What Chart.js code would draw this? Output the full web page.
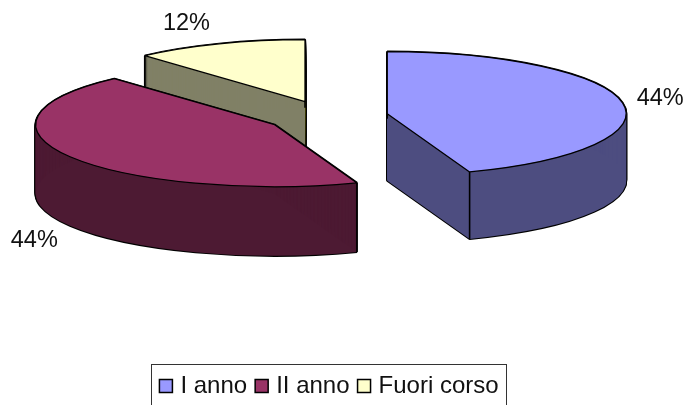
<!DOCTYPE html>
<html>
<head>
<meta charset="utf-8">
<style>
  html, body { margin: 0; padding: 0; background: #fff; overflow: hidden; }
  canvas { display: block; }
</style>
<script src="https://cdn.jsdelivr.net/npm/chart.js@4"></script>
</head>
<body>
<canvas id="pie3d" width="688" height="405"></canvas>
<script>
// Values (labels say 44 / 44 / 12, slice edges give the decimals)
const categories = ["I anno", "II anno", "Fuori corso"];
const shares = [44.4, 43.9, 11.7];

// Colours of the top faces, the side walls and the outline
const topColors = ["#9999FF", "#993366", "#FFFFCC"];
const sideColors = ["#4D4D80", "#4D1A33", "#808066"];
const lineColor = "#000000";

// Fake 3D: the flat pie is squashed about this point, exploded and swept downwards
const pieCenterX = 327;
const pieCenterY = 116.5;
const faceRadiusX = 239;
const faceRadiusY = 62;
const explode = 0.256;
const wallDepth = [67, 69, 68];
const drawOrder = [2, 1, 0];

// Percent labels: how far out along the slice, and how far below the face
const labelReach = [1.16, 1.175, 1.38];
const labelDrop = [-3, 78, 2];
const fontName = '"Liberation Sans", Arial, sans-serif';

function midAngle(arc) {
    return (arc.startAngle + arc.endAngle) / 2;
}

function placeArc(ctx, arc, drop) {
    const sx = faceRadiusX / arc.outerRadius;
    const sy = faceRadiusY / arc.outerRadius;
    const mid = midAngle(arc);
    const cx = pieCenterX + Math.cos(mid) * explode * faceRadiusX;
    const cy = pieCenterY + Math.sin(mid) * explode * faceRadiusY + drop;
    ctx.setTransform(sx, 0, 0, sy, cx - arc.x * sx, cy - arc.y * sy);
}

// Where a point of the slice rim lands on screen
function project(arc, angle, reach) {
    const mid = midAngle(arc);
    return {
        x: pieCenterX + (Math.cos(mid) * explode + Math.cos(angle) * reach) * faceRadiusX,
        y: pieCenterY + (Math.sin(mid) * explode + Math.sin(angle) * reach) * faceRadiusY
    };
}

function drawStyled(ctx, arc, fill, border, drop) {
    const real = arc.options;
    arc.options = Object.assign({}, real, { backgroundColor: fill, borderColor: lineColor, borderWidth: border });
    ctx.save();
    placeArc(ctx, arc, drop);
    arc.draw(ctx);
    ctx.restore();
    arc.options = real;
}

const pie3d = {
    id: "pie3d",
    beforeDatasetsDraw(chart) {
        const ctx = chart.ctx;
        const arcs = chart.getDatasetMeta(0).data;

        // keep the pen round: stroke in screen space, not in the squashed one
        const nativeStroke = ctx.stroke;
        ctx.stroke = function () {
            const m = ctx.getTransform();
            ctx.setTransform(1, 0, 0, 1, 0, 0);
            nativeStroke.call(ctx);
            ctx.setTransform(m);
        };

        drawOrder.forEach(i => {
            const arc = arcs[i];
            const depth = wallDepth[i];
            for (let d = 0; d <= depth; d++) drawStyled(ctx, arc, lineColor, 2.2, d);
            for (let d = 0; d <= depth; d++) drawStyled(ctx, arc, sideColors[i], 0, d);

            // wall corners, the top face hides the ones at the back
            ctx.save();
            ctx.strokeStyle = lineColor;
            ctx.lineWidth = 1.6;
            [arc.startAngle, arc.endAngle].forEach(a => {
                const p = project(arc, a, 1);
                ctx.beginPath();
                ctx.moveTo(p.x, p.y);
                ctx.lineTo(p.x, p.y + depth);
                ctx.stroke();
            });
            ctx.restore();

            drawStyled(ctx, arc, topColors[i], 1.3, 0);
        });

        ctx.stroke = nativeStroke;
        return false;
    },
    afterDraw(chart) {
        const ctx = chart.ctx;
        const arcs = chart.getDatasetMeta(0).data;
        const total = shares.reduce((a, b) => a + b, 0);

        ctx.save();
        ctx.fillStyle = "#111";
        ctx.font = "23.5px " + fontName;
        ctx.textAlign = "center";
        ctx.textBaseline = "middle";
        shares.forEach((v, i) => {
            const arc = arcs[i];
            const p = project(arc, midAngle(arc), labelReach[i]);
            ctx.fillText(Math.round(v / total * 100) + "%", p.x, p.y + labelDrop[i]);
        });

        // frame of the legend, it runs off the bottom of the picture
        const boxes = chart.legend.legendHitBoxes;
        const last = boxes[boxes.length - 1];
        ctx.strokeStyle = "#333";
        ctx.lineWidth = 1;
        ctx.strokeRect(Math.round(boxes[0].left - 12) + 0.5, 364.5,
            Math.round(last.left + last.width - boxes[0].left + 20), 60);
        ctx.restore();
    }
};

new Chart(document.getElementById("pie3d"), {
    type: "pie",
    data: {
        labels: categories,
        datasets: [{
            data: shares,
            backgroundColor: topColors,
            borderColor: lineColor,
            borderWidth: 1.5
        }]
    },
    options: {
        responsive: false,
        animation: false,
        events: [],
        layout: { padding: { right: 26, bottom: -3 } },
        plugins: {
            tooltip: { enabled: false },
            legend: {
                position: "bottom",
                labels: {
                    usePointStyle: true,
                    pointStyle: "rect",
                    boxWidth: 5,
                    boxHeight: 13,
                    padding: 12,
                    color: "#111",
                    font: { family: fontName, size: 24 }
                }
            }
        }
    },
    plugins: [pie3d]
});
</script>
</body>
</html>
